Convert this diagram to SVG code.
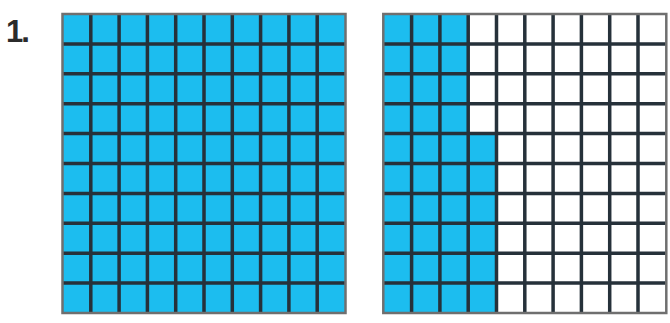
<svg xmlns="http://www.w3.org/2000/svg" xmlns:xlink="http://www.w3.org/1999/xlink" width="670" height="323" viewBox="0 0 670 323">
  <style>
    .blue { fill: #1cbdef; }
    .white { fill: #ffffff; }
    .inner { fill: none; stroke: #26313a; stroke-width: 3.5; }
    .border { fill: none; stroke: #6f6f6f; stroke-width: 2.5; }
    .label { font-family: "Liberation Sans", Arial, sans-serif; font-weight: bold; font-size: 31px; fill: #2b2b2b; }
  </style>
  <defs>
    <path id="gridlines" class="inner" d="M28.3 0V299M56.6 0V299M84.9 0V299M113.2 0V299M141.5 0V299M169.8 0V299M198.1 0V299M226.4 0V299M254.7 0V299M0 29.9H283M0 59.8H283M0 89.7H283M0 119.6H283M0 149.5H283M0 179.4H283M0 209.3H283M0 239.2H283M0 269.1H283"/>
  </defs>
  <rect width="670" height="323" fill="#ffffff"/>
  <g id="label">
    <text class="label" x="6" y="42" letter-spacing="-2">1.</text>
  </g>
  <g id="grid-left" transform="translate(62.5,14)">
    <rect class="blue" x="0" y="0" width="283" height="299"/>
    <use xlink:href="#gridlines"/>
    <rect class="border" x="0" y="0" width="283" height="299"/>
  </g>
  <g id="grid-right" transform="translate(383.3,14)">
    <rect class="white" x="0" y="0" width="283" height="299"/>
    <path class="blue" d="M0 0H84.9V119.6H113.2V299H0Z"/>
    <use xlink:href="#gridlines"/>
    <rect class="border" x="0" y="0" width="283" height="299"/>
  </g>
</svg>
